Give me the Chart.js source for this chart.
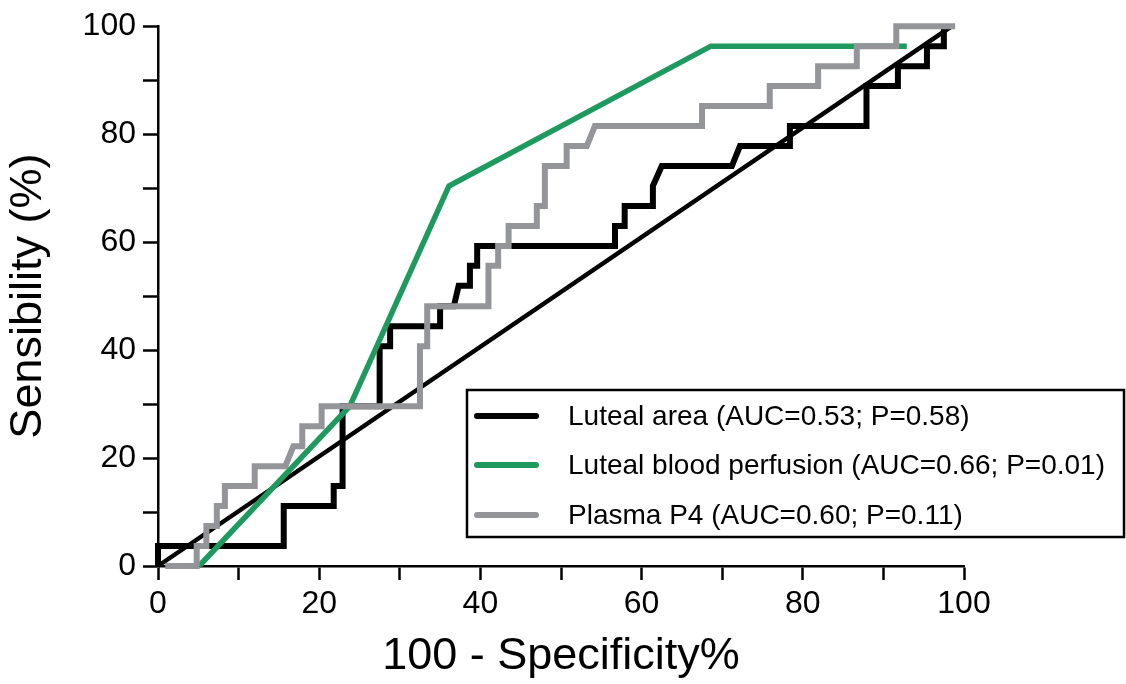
<!DOCTYPE html>
<html>
<head>
<meta charset="utf-8">
<script src="https://cdn.jsdelivr.net/npm/chart.js@4.4.1/dist/chart.umd.min.js"></script>
<style>
  html, body { margin: 0; padding: 0; background: #fff; }
  #wrap { width: 1126px; height: 684px; }
</style>
</head>
<body>
<div id="wrap"><canvas id="c" width="1126" height="684"></canvas></div>
<script>
// ---- Data (x = 100 - Specificity %, y = Sensibility %) ----
const xTicks = [0, 20, 40, 60, 80, 100];
const yTicks = [0, 20, 40, 60, 80, 100];

const seriesNames = [
  'Luteal area (AUC=0.53; P=0.58)',
  'Luteal blood perfusion (AUC=0.66; P=0.01)',
  'Plasma P4 (AUC=0.60; P=0.11)'
];

// Luteal area ROC curve vertices
const areaX = [0, 0, 15.6, 15.6, 21.8, 21.8, 22.9, 22.9, 27.5, 27.5, 28.8, 28.8, 35.0, 35.0, 36.7, 37.3, 38.7, 38.7, 39.6, 39.6, 56.7, 56.7, 57.9, 57.9, 61.4, 61.4, 62.5, 71.2, 72.2, 78.4, 78.4, 87.9, 87.9, 91.8, 91.8, 95.4, 95.4, 97.5, 97.5];
const areaY = [0, 3.7, 3.7, 11.1, 11.1, 14.8, 14.8, 29.6, 29.6, 40.7, 40.7, 44.4, 44.4, 48.1, 48.1, 51.9, 51.9, 55.6, 55.6, 59.3, 59.3, 63.0, 63.0, 66.7, 66.7, 70.4, 74.1, 74.1, 77.8, 77.8, 81.5, 81.5, 88.9, 88.9, 92.6, 92.6, 96.3, 96.3, 100];

// Luteal blood perfusion ROC curve vertices
const perfX = [5.1, 23.8, 36.1, 68.6, 92.9];
const perfY = [0, 29.6, 70.4, 96.3, 96.3];

// Plasma P4 ROC curve vertices
const p4X = [0.9, 4.8, 4.8, 6.0, 6.0, 7.3, 7.3, 8.3, 8.3, 12.0, 12.0, 15.8, 16.8, 17.9, 17.9, 20.3, 20.3, 32.5, 32.5, 33.4, 33.4, 41.0, 41.0, 42.2, 42.2, 43.5, 43.5, 47.0, 47.0, 48.0, 48.0, 50.7, 50.7, 53.2, 54.2, 67.5, 67.5, 75.9, 75.9, 81.9, 81.9, 86.7, 86.7, 91.6, 91.6, 98.9];
const p4Y = [0, 0, 3.7, 3.7, 7.4, 7.4, 11.1, 11.1, 14.8, 14.8, 18.5, 18.5, 22.2, 22.2, 25.9, 25.9, 29.6, 29.6, 40.7, 40.7, 48.1, 48.1, 55.6, 55.6, 59.3, 59.3, 63.0, 63.0, 66.7, 66.7, 74.1, 74.1, 77.8, 77.8, 81.5, 81.5, 85.2, 85.2, 88.9, 88.9, 92.6, 92.6, 96.3, 96.3, 100, 100];

// Reference (chance) line
const refX = [0, 98.5];
const refY = [0, 100];

const colors = ['#000000', '#1f9a5f', '#939598'];

function pts(xs, ys) { return xs.map((x, i) => ({ x: x, y: ys[i] })); }

const FONT = "'Liberation Sans', Arial, Helvetica, sans-serif";

const legendBox = {
  id: 'legendBox',
  afterDraw(chart, args, opts) {
    const ctx = chart.ctx;
    ctx.save();
    ctx.fillStyle = '#ffffff';
    ctx.fillRect(opts.left, opts.top, opts.right - opts.left, opts.bottom - opts.top);
    ctx.strokeStyle = '#000';
    ctx.lineWidth = 2.5;
    ctx.strokeRect(opts.left, opts.top, opts.right - opts.left, opts.bottom - opts.top);
    const items = chart.data.datasets.filter(d => d.legendIndex !== undefined)
      .sort((a, b) => a.legendIndex - b.legendIndex);
    items.forEach((d, i) => {
      const y = opts.rows[i];
      ctx.strokeStyle = d.borderColor;
      ctx.lineWidth = 6;
      ctx.lineCap = 'round';
      ctx.beginPath();
      ctx.moveTo(opts.lineStart, y);
      ctx.lineTo(opts.lineEnd, y);
      ctx.stroke();
      ctx.fillStyle = '#000';
      ctx.font = opts.fontSize + 'px ' + FONT;
      ctx.textBaseline = 'middle';
      ctx.textAlign = 'left';
      ctx.fillText(d.label, opts.textX, y + 1);
    });
    ctx.restore();
  }
};

const common = { showLine: true, pointRadius: 0, pointHoverRadius: 0, fill: false, tension: 0, clip: false, borderJoinStyle: 'miter', borderCapStyle: 'butt' };

new Chart(document.getElementById('c'), {
  type: 'scatter',
  data: {
    datasets: [
      Object.assign({ label: seriesNames[2], data: pts(p4X, p4Y), borderColor: colors[2], borderWidth: 6, order: 0, legendIndex: 2 }, common),
      Object.assign({ label: seriesNames[1], data: pts(perfX, perfY), borderColor: colors[1], borderWidth: 5.5, order: 1, legendIndex: 1 }, common),
      Object.assign({ label: seriesNames[0], data: pts(areaX, areaY), borderColor: colors[0], borderWidth: 6, order: 2, legendIndex: 0 }, common),
      Object.assign({ label: 'reference', data: pts(refX, refY), borderColor: '#000', borderWidth: 4.5, order: 3 }, common)
    ]
  },
  options: {
    responsive: false,
    animation: false,
    events: [],
    layout: { padding: { top: 26, right: 162, left: 0, bottom: 0 } },
    plugins: {
      legend: { display: false },
      tooltip: { enabled: false },
      legendBox: { left: 467, right: 1124, top: 390, bottom: 537, rows: [416, 465, 515], lineStart: 477, lineEnd: 536, textX: 568, fontSize: 28 }
    },
    scales: {
      x: {
        type: 'linear', min: 0, max: 100,
        afterFit(s) { s.height = 118; },
        border: { display: true, color: '#000', width: 2.5 },
        grid: { display: true, drawOnChartArea: false, drawTicks: true, tickLength: 14, tickColor: '#000', tickWidth: 2.5 },
        ticks: {
          stepSize: 10, autoSkip: false, maxRotation: 0, padding: 5, color: '#000',
          font: { family: FONT, size: 32 },
          callback: v => xTicks.includes(v) ? String(v) : ''
        },
        title: { display: true, text: '100 - Specificity%', color: '#000', font: { family: FONT, size: 45 }, padding: { top: 0, bottom: 0 } }
      },
      y: {
        type: 'linear', min: 0, max: 100,
        afterFit(s) { s.width = 158; },
        border: { display: true, color: '#000', width: 2.5 },
        grid: { display: true, drawOnChartArea: false, drawTicks: true, tickLength: 15, tickColor: '#000', tickWidth: 2.5 },
        ticks: {
          stepSize: 10, autoSkip: false, padding: 7, color: '#000',
          font: { family: FONT, size: 32 },
          callback: v => yTicks.includes(v) ? String(v) : ''
        },
        title: { display: true, text: 'Sensibility (%)', color: '#000', font: { family: FONT, size: 45 }, padding: { top: 2, bottom: 0 } }
      }
    }
  },
  plugins: [legendBox]
});
</script>
</body>
</html>
